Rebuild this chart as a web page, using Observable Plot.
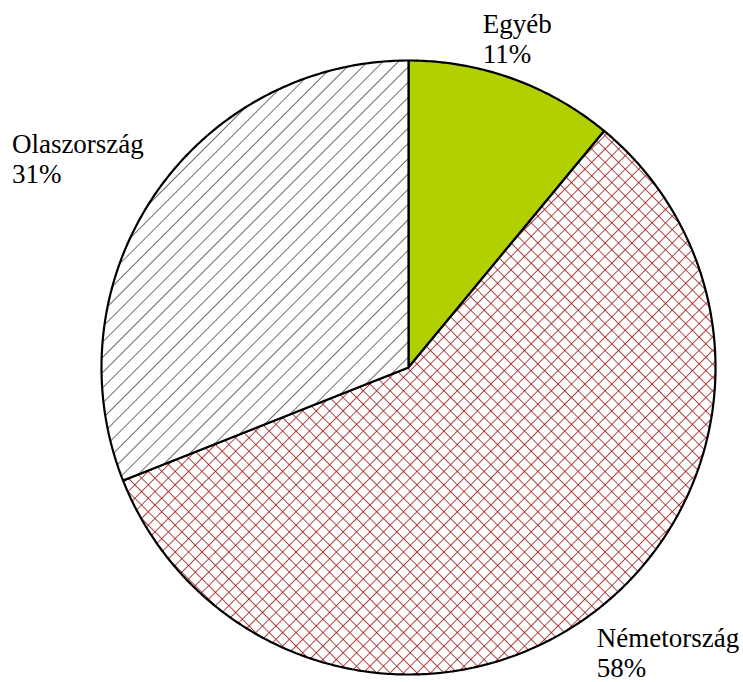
<!DOCTYPE html>
<html>
<head>
<meta charset="utf-8">
<script src="https://cdn.jsdelivr.net/npm/d3@7"></script>
<script src="https://cdn.jsdelivr.net/npm/@observablehq/plot@0.6"></script>
<style>
  html, body { margin: 0; padding: 0; background: #fff; }
  #chart { width: 743px; height: 682px; overflow: hidden; }
</style>
</head>
<body>
<div id="chart"></div>
<script>
// ---- data ----
const categories = ["Egyéb", "Németország", "Olaszország"];
const shares = [11, 58, 31];
const percentLabels = ["11%", "58%", "31%"];

// ---- style / layout ----
const W = 743, H = 682;
const CX = 408, CY = 367, R = 307;          // pie centre and radius in px
const fills = ["#b2d000", "url(#crosshatch)", "url(#hatch)"];
const labelNudge = [[-11, 0], [30, 2], [-12, -13]]; // px adjustments
const FONT = "Liberation Serif";
const FS = 27;
const HATCH = 10.8, CROSS = 9.5;            // pattern spacing (px, perpendicular)

// ---- geometry via d3.pie ----
const arcs = d3.pie().sort(null).value(d => d)(shares);
const polys = arcs.map((a, i) => {
  const pts = [{x: 0, y: 0, k: i}];
  const n = Math.max(8, Math.ceil((a.endAngle - a.startAngle) / 0.01));
  for (let j = 0; j <= n; j++) {
    const t = a.startAngle + (a.endAngle - a.startAngle) * j / n;
    pts.push({x: Math.sin(t), y: Math.cos(t), k: i});
  }
  pts.push({x: 0, y: 0, k: i});
  return pts;
});

// measure label widths
const ctx = document.createElement("canvas").getContext("2d");
ctx.font = `${FS}px 'Liberation Serif'`;
const labels = arcs.map((a, i) => {
  const text = categories[i] + "\n" + percentLabels[i];
  const w = Math.max(ctx.measureText(categories[i]).width, ctx.measureText(percentLabels[i]).width);
  const h = 2 * 30;
  const th = (a.startAngle + a.endAngle) / 2;
  const s = Math.sin(th), c = Math.cos(th);
  const px = s * 1.04 + (w / 2 * s - w / 2 + labelNudge[i][0]) / R;
  const py = c * 1.04 + (h / 2 * c - labelNudge[i][1]) / R;
  return {text, x: px, y: py};
});

const chart = Plot.plot({
  width: W,
  height: H,
  margin: 0,
  x: {domain: [-CX / R, (W - CX) / R], range: [0, W], axis: null},
  y: {domain: [-(H - CY) / R, CY / R], range: [H, 0], axis: null},
  style: {background: "#fff", overflow: "visible"},
  marks: [
    ...polys.map((p, i) => Plot.line(p, {
      x: "x", y: "y", fill: fills[i], stroke: "#000", strokeWidth: 2.2,
      strokeLinejoin: "miter", curve: "linear"
    })),
    Plot.text(labels, {
      x: "x", y: "y", text: "text", textAnchor: "start", lineAnchor: "middle",
      lineHeight: 30 / FS, fontSize: FS, fontFamily: FONT, fill: "#000"
    })
  ]
});

// patterns
const svg = d3.select(chart);
const defs = svg.insert("defs", ":first-child");
const hatch = defs.append("pattern").attr("id", "hatch")
  .attr("patternUnits", "userSpaceOnUse").attr("width", HATCH).attr("height", HATCH)
  .attr("patternTransform", "rotate(45)");
hatch.append("rect").attr("width", HATCH).attr("height", HATCH).attr("fill", "#fff");
hatch.append("line").attr("x1", 0).attr("y1", 0).attr("x2", 0).attr("y2", HATCH)
  .attr("stroke", "#333").attr("stroke-width", 1.4);
const cross = defs.append("pattern").attr("id", "crosshatch")
  .attr("patternUnits", "userSpaceOnUse").attr("width", CROSS).attr("height", CROSS)
  .attr("patternTransform", "rotate(45)");
cross.append("rect").attr("width", CROSS).attr("height", CROSS).attr("fill", "#fff");
cross.append("line").attr("x1", 0).attr("y1", 0).attr("x2", 0).attr("y2", CROSS)
  .attr("stroke", "#a01c1c").attr("stroke-width", 1.6);
cross.append("line").attr("x1", 0).attr("y1", 0).attr("x2", CROSS).attr("y2", 0)
  .attr("stroke", "#a01c1c").attr("stroke-width", 1.6);

document.getElementById("chart").appendChild(chart);
</script>
</body>
</html>
